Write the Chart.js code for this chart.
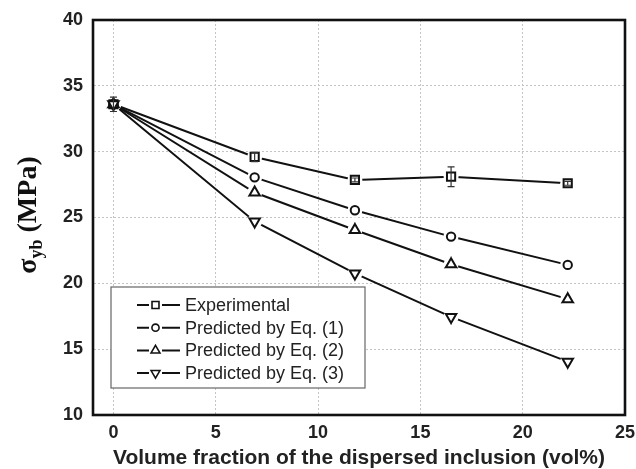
<!DOCTYPE html>
<html>
<head>
<meta charset="utf-8">
<script src="https://cdn.jsdelivr.net/npm/chart.js@4.4.1/dist/chart.umd.min.js"></script>
<style>
  html, body { margin: 0; padding: 0; background: #fff; }
  #wrap { width: 636px; height: 469px; position: relative; }
</style>
</head>
<body>
<div id="wrap"><canvas id="chart"></canvas></div>
<script>
// ─── Data ─────────────────────────────────────────────────
const volFraction  = [0, 6.9, 11.8, 16.5, 22.2];
const experimental = [33.6, 29.6, 27.85, 28.1, 27.6];
const expError     = [0.55, 0.35, 0.15, 0.75, 0.15];
const predictedEq1 = [33.6, 28.05, 25.55, 23.55, 21.4];
const predictedEq2 = [33.6, 26.9, 24.05, 21.45, 18.8];
const predictedEq3 = [33.6, 24.7, 20.75, 17.45, 14.05];
const xTicks       = [0, 5, 10, 15, 20, 25];
const seriesLabels = ['Experimental', 'Predicted by Eq. (1)', 'Predicted by Eq. (2)', 'Predicted by Eq. (3)'];

const INK = '#111';
const SANS = "'Liberation Sans', Arial, sans-serif";
const SERIF = "'Liberation Serif', 'Times New Roman', serif";

function pts(ys) {
    return volFraction.map((x, i) => ({ x, y: ys[i] }));
}

// marker shape per series
const MARKERS = [
    { pointStyle: 'rect',     radius: 5.8, rotation: 0 },
    { pointStyle: 'circle',   radius: 4.2, rotation: 0 },
    { pointStyle: 'triangle', radius: 6,   rotation: 0 },
    { pointStyle: 'triangle', radius: 6,   rotation: 180 },
];

const datasets = [experimental, predictedEq1, predictedEq2, predictedEq3].map((ys, i) => ({
    label: seriesLabels[i],
    data: pts(ys),
    borderColor: INK,
    borderWidth: 2,
    backgroundColor: '#fff',
    pointStyle: MARKERS[i].pointStyle,
    pointRadius: MARKERS[i].radius,
    pointRotation: MARKERS[i].rotation,
    pointBorderWidth: 2,
    pointBorderColor: INK,
    pointBackgroundColor: '#fff',
    tension: 0,
}));

// ─── Plugins ──────────────────────────────────────────────
// white gap around markers, then redraw them; error bars on top
const markerPlugin = {
    id: 'markers',
    afterDatasetsDraw(chart) {
        const ctx = chart.ctx;
        chart.data.datasets.forEach((ds, di) => {
            chart.getDatasetMeta(di).data.forEach(p => {
                ctx.save();
                ctx.fillStyle = '#fff';
                ctx.beginPath();
                ctx.arc(p.x, p.y, 7.5, 0, Math.PI * 2);
                ctx.fill();
                ctx.restore();
            });
        });
        chart.data.datasets.forEach((ds, di) => {
            chart.getDatasetMeta(di).data.forEach(p => p.draw(ctx, chart.chartArea));
        });

        // error bars of the experimental series
        const xs = chart.scales.x, ys = chart.scales.y;
        ctx.save();
        ctx.strokeStyle = '#333';
        ctx.lineWidth = 1.2;
        volFraction.forEach((v, i) => {
            const e = expError[i];
            const px = xs.getPixelForValue(v);
            const top = ys.getPixelForValue(experimental[i] + e);
            const bot = ys.getPixelForValue(experimental[i] - e);
            ctx.beginPath();
            ctx.moveTo(px, top); ctx.lineTo(px, bot);
            ctx.moveTo(px - 3.5, top); ctx.lineTo(px + 3.5, top);
            ctx.moveTo(px - 3.5, bot); ctx.lineTo(px + 3.5, bot);
            ctx.stroke();
        });
        ctx.restore();
    },
    afterDraw(chart) {
        const ctx = chart.ctx;
        const a = chart.chartArea;

        // plot frame
        ctx.save();
        ctx.strokeStyle = INK;
        ctx.lineWidth = 2.6;
        ctx.strokeRect(a.left, a.top, a.right - a.left, a.bottom - a.top);
        ctx.restore();

        // legend box
        const lx = 111, ly = 287, lw = 254, lh = 101;
        ctx.save();
        ctx.fillStyle = '#fff';
        ctx.fillRect(lx, ly, lw, lh);
        ctx.strokeStyle = '#666';
        ctx.lineWidth = 1.2;
        ctx.strokeRect(lx, ly, lw, lh);
        ctx.font = '18px ' + SANS;
        ctx.textBaseline = 'middle';
        chart.data.datasets.forEach((ds, i) => {
            const y = 305 + i * 22.7;
            ctx.strokeStyle = INK;
            ctx.lineWidth = 2;
            ctx.beginPath();
            ctx.moveTo(137, y); ctx.lineTo(149, y);
            ctx.moveTo(162, y); ctx.lineTo(180, y);
            ctx.stroke();
            ctx.lineWidth = 1.6;
            ctx.fillStyle = '#fff';
            const m = MARKERS[i];
            Chart.helpers.drawPoint(ctx, {
                pointStyle: m.pointStyle,
                radius: m.radius * 0.85,
                rotation: m.rotation,
                borderWidth: 1.6,
            }, 155.5, y);
            ctx.fillStyle = '#222';
            ctx.fillText(ds.label, 185, y + 1);
        });
        ctx.restore();

        // y axis title with subscript
        ctx.save();
        ctx.translate(27, 215);
        ctx.rotate(-Math.PI / 2);
        ctx.fillStyle = INK;
        ctx.textBaseline = 'alphabetic';
        const big = 'bold 28px ' + SERIF, small = 'bold 18px ' + SERIF;
        ctx.font = big;
        const wSig = ctx.measureText('σ').width;
        const wRest = ctx.measureText(' (MPa)').width;
        ctx.font = small;
        const wSub = ctx.measureText('yb').width;
        let x = -(wSig + wSub + wRest) / 2;
        const base = 9;
        ctx.font = big;
        ctx.fillText('σ', x, base);
        x += wSig;
        ctx.font = small;
        ctx.fillText('yb', x, base + 6);
        x += wSub;
        ctx.font = big;
        ctx.fillText(' (MPa)', x, base);
        ctx.restore();
    }
};

const gridOpts = { color: '#c4c4c4', lineWidth: 1, drawTicks: false };
const borderOpts = { display: true, color: 'rgba(0,0,0,0)', dash: [2, 2] };

// ─── Chart ────────────────────────────────────────────────
new Chart(document.getElementById('chart'), {
    type: 'line',
    data: { datasets },
    options: {
        responsive: true,
        maintainAspectRatio: false,
        animation: false,
        layout: { padding: { top: 20, right: 11, left: 0, bottom: 0 } },
        plugins: { legend: { display: false }, tooltip: { enabled: false } },
        scales: {
            x: {
                type: 'linear',
                min: -1, max: 25,
                afterBuildTicks: s => { s.ticks = xTicks.map(v => ({ value: v })); },
                afterFit: s => { s.height = 54; s.paddingRight = 0; s.paddingLeft = 0; },
                grid: gridOpts,
                border: borderOpts,
                ticks: { color: '#222', font: { family: SANS, size: 18, weight: 'bold' }, padding: 7, maxRotation: 0 },
                title: {
                    display: true,
                    text: 'Volume fraction of the dispersed inclusion (vol%)',
                    color: '#222',
                    font: { family: SANS, size: 21, weight: 'bold', lineHeight: 1 },
                    padding: { top: 0, bottom: 0 },
                },
            },
            y: {
                min: 10, max: 40,
                ticks: { stepSize: 5, color: '#222', font: { family: SANS, size: 18, weight: 'bold' }, padding: 10 },
                afterFit: s => { s.width = 93; s.paddingTop = 0; s.paddingBottom = 0; },
                grid: gridOpts,
                border: borderOpts,
            },
        },
    },
    plugins: [markerPlugin],
});
</script>
</body>
</html>
